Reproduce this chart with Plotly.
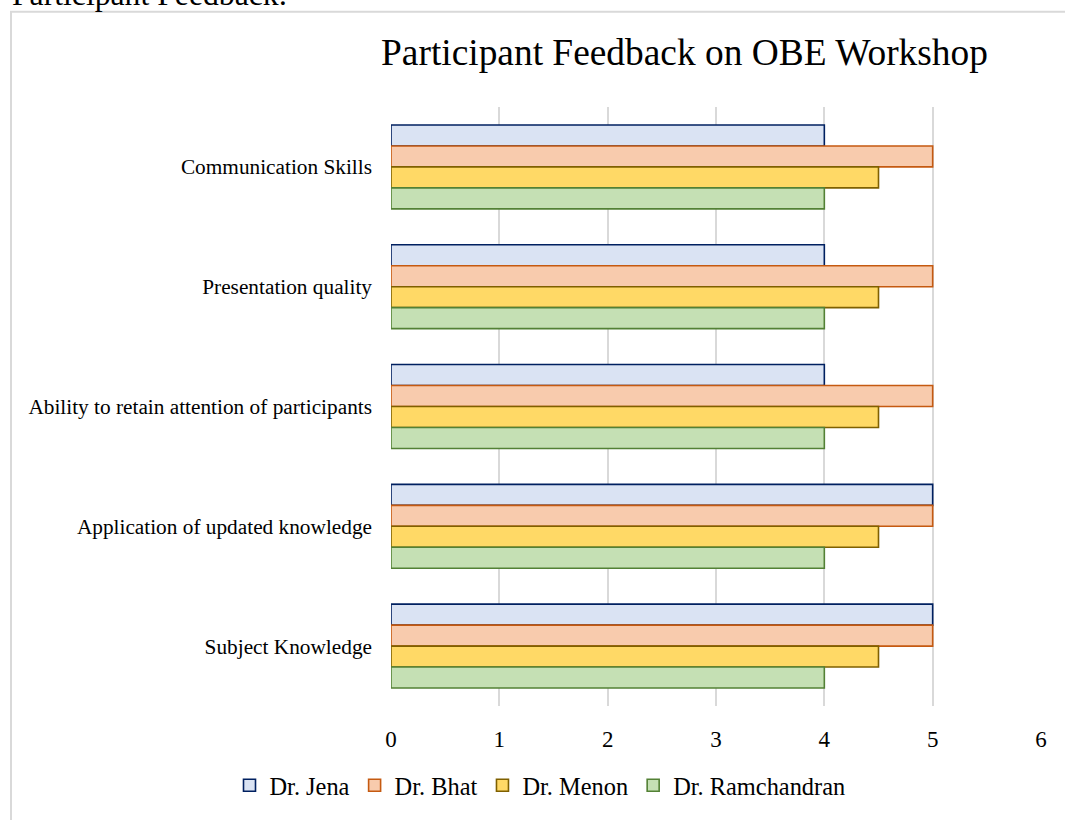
import plotly.graph_objects as go

categories = ["Communication Skills", "Presentation quality",
              "Ability to retain attention of participants",
              "Application of updated knowledge", "Subject Knowledge"]
series_names = ["Dr. Jena", "Dr. Bhat", "Dr. Menon", "Dr. Ramchandran"]
jena = [4, 4, 4, 5, 5]
bhat = [5, 5, 5, 5, 5]
menon = [4.5, 4.5, 4.5, 4.5, 4.5]
ramchandran = [4, 4, 4, 4, 4]
x_ticks = [0, 1, 2, 3, 4, 5, 6]

fills = ["#DAE3F3", "#F8CBAD", "#FFD966", "#C5E0B4"]
lines = ["#002060", "#C55A11", "#7F6000", "#538135"]

W, H = 1065, 820
L, R, T, B = 391, 24, 107, 109
pw, ph = W - L - R, H - T - B


def px_x(px):
    return (px - L) / pw


def px_y(py):
    return (H - B - py) / ph


FONT = "Liberation Serif, Times New Roman, serif"

fig = go.Figure()
for name, vals, fc, lc in zip(series_names, [jena, bhat, menon, ramchandran], fills, lines):
    fig.add_trace(go.Bar(
        y=categories, x=vals, name=name, orientation="h",
        marker=dict(color=fc, line=dict(color=lc, width=1.6)),
    ))

fig.update_layout(
    width=W, height=H,
    margin=dict(l=L, r=R, t=T, b=B),
    paper_bgcolor="white", plot_bgcolor="white",
    barmode="group", bargap=0.3, bargroupgap=0,
    font=dict(family=FONT, color="#000000"),
    title=dict(text="Participant Feedback on OBE Workshop",
               font=dict(size=37.4, family=FONT, color="#000000"),
               x=px_x(684.5), xref="paper", xanchor="center",
               y=1 - 52 / H, yanchor="middle"),
    xaxis=dict(range=[0, 6], tickvals=x_ticks, showgrid=True, gridcolor="#D9D9D9",
               gridwidth=2, zeroline=False, showline=False,
               tickfont=dict(size=23, family=FONT, color="#000000"), ticks="",
               ticklabelstandoff=17),
    yaxis=dict(autorange="reversed", showgrid=False, showline=False, ticks="",
               tickfont=dict(size=21.3, family=FONT, color="#000000"),
               ticklabelstandoff=18),
    legend=dict(orientation="h", x=px_x(540), xanchor="center",
                y=px_y(791), yanchor="middle",
                font=dict(size=24.4, family=FONT, color="#000000"),
                itemwidth=30, traceorder="normal"),
    showlegend=True,
)

# outer chart frame
fig.add_shape(type="rect", xref="paper", yref="paper",
              x0=px_x(11), x1=px_x(1070), y0=px_y(11), y1=px_y(830),
              line=dict(color="#D9D9D9", width=2), fillcolor="rgba(0,0,0,0)")

# cropped caption above the frame
fig.add_annotation(text="Participant Feedback:", xref="paper", yref="paper",
                   x=px_x(10), y=px_y(-6), xanchor="left", yanchor="middle",
                   showarrow=False, font=dict(size=31.7, family=FONT, color="#000000"))

fig.write_html("out.html", config={"displayModeBar": False},
               post_script="document.body.style.margin='0';document.body.style.overflow='hidden';")
